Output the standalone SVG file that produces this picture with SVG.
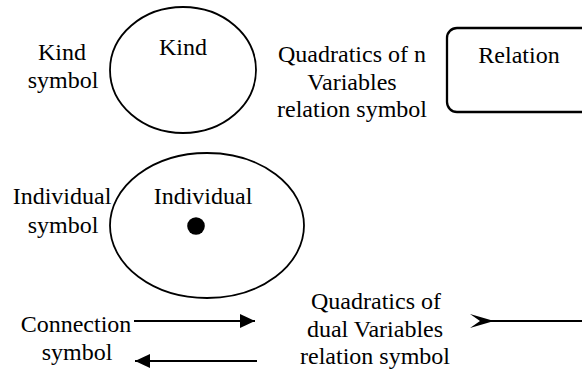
<svg xmlns="http://www.w3.org/2000/svg" width="582" height="372" viewBox="0 0 582 372">
<style>
text{font-family:"Liberation Serif","Times New Roman",serif;font-size:24px;fill:#000;text-anchor:middle}
.sh{fill:none;stroke:#000;stroke-width:1.8}
.ln{stroke:#000;stroke-width:2;fill:none}
</style>
<defs>
<marker id="tri" markerWidth="16" markerHeight="14" refX="15" refY="7" orient="auto" markerUnits="userSpaceOnUse">
<path d="M0,0 L15,7 L0,14 Z" fill="#000"/>
</marker>
</defs>
<rect width="582" height="372" fill="#fff"/>
<g id="kind-label"><text x="62" y="60">Kind</text><text x="63" y="88">symbol</text></g>
<g id="kind"><ellipse class="sh" cx="183" cy="70" rx="73" ry="63"/><text x="183" y="55">Kind</text></g>
<g id="relation-label"><text x="352" y="62">Quadratics of n</text><text x="352" y="90">Variables</text><text x="352" y="117">relation symbol</text></g>
<g id="relation"><rect x="447" y="28" width="150" height="84" rx="10" ry="10" fill="none" stroke="#000" stroke-width="2.3"/><text x="519" y="63">Relation</text></g>
<g id="individual-label"><text x="62" y="204">Individual</text><text x="63" y="233">symbol</text></g>
<g id="individual"><ellipse class="sh" cx="207" cy="225.5" rx="97" ry="72.5"/><text x="203" y="204">Individual</text><circle cx="196" cy="226" r="8.8" fill="#000"/></g>
<g id="connection-label"><text x="76" y="332">Connection</text><text x="77" y="360">symbol</text></g>
<g id="dual-label"><text x="376" y="309">Quadratics of</text><text x="375" y="337">dual Variables</text><text x="375" y="364">relation symbol</text></g>
<g id="connectors">
<line class="ln" x1="134" y1="321" x2="255" y2="321" marker-end="url(#tri)"/>
<line class="ln" x1="257" y1="361" x2="135" y2="361" marker-end="url(#tri)"/>
<line class="ln" x1="490" y1="321" x2="582" y2="321"/>
<path d="M470,314 L494,321 L470,328 L480,321 Z" fill="#000"/>
</g>
</svg>
